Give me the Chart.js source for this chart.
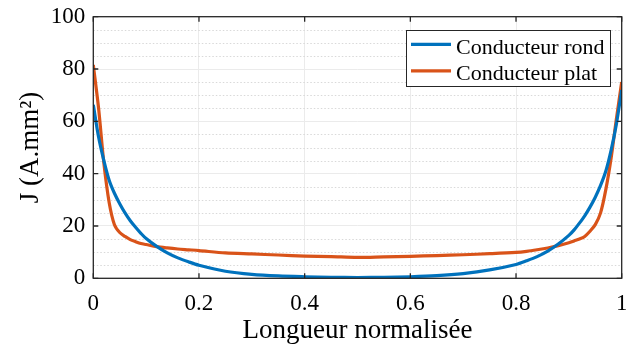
<!DOCTYPE html>
<html>
<head>
<meta charset="utf-8">
<script src="https://cdn.jsdelivr.net/npm/chart.js@4.4.1/dist/chart.umd.min.js"></script>
<style>
  html, body { margin: 0; padding: 0; background: #fff; }
  #wrap { width: 626px; height: 349px; }
</style>
</head>
<body>
<div id="wrap"><canvas id="c" width="626" height="349"></canvas></div>
<script>
// positions le long du conducteur (normalisees)
const positions = [0, 0.01, 0.02, 0.03, 0.04, 0.05, 0.06, 0.07, 0.08, 0.09, 0.1, 0.12, 0.14, 0.16, 0.18, 0.2,
  0.25, 0.3, 0.35, 0.4, 0.45, 0.5, 0.55, 0.6, 0.65, 0.7, 0.75, 0.8, 0.82, 0.84, 0.86, 0.88, 0.9,
  0.91, 0.92, 0.93, 0.94, 0.95, 0.96, 0.97, 0.98, 0.99, 1.0];

// J (A.mm2) - conducteur rond
const rondValues = [66.3, 54, 45, 37.5, 32.5, 28.5, 25, 22, 19.5, 17.2, 15.2, 12.2, 9.7, 7.8, 6.3, 5.0,
  2.7, 1.5, 0.9, 0.6, 0.4, 0.3, 0.4, 0.6, 1.0, 1.8, 3.2, 5.3, 6.7, 8.3, 10.4, 13.1, 16.4,
  18.5, 21.1, 23.9, 27.2, 31, 35.5, 41, 49, 59, 72];

// J (A.mm2) - conducteur plat
const platValues = [81.6, 65, 44, 29, 20.5, 17.5, 16, 14.8, 14, 13.3, 12.9, 12.1, 11.6, 11.2, 10.9, 10.6,
  9.7, 9.3, 8.9, 8.5, 8.3, 8.0, 8.2, 8.4, 8.7, 9.0, 9.4, 9.9, 10.3, 10.9, 11.6, 12.5, 13.6,
  14.3, 15.0, 16.0, 18.0, 20.5, 25, 34, 46, 61, 75];

const seriesNames = ['Conducteur rond', 'Conducteur plat'];
const xTicks = [0, 0.2, 0.4, 0.6, 0.8, 1];
const yTicks = [0, 20, 40, 60, 80, 100];

const FONT = "'Liberation Serif', 'Times New Roman', serif";
const INK = '#262626';

const toPoints = vals => vals.map((v, i) => ({ x: positions[i], y: v }));

const matlabBox = {
  id: 'matlabBox',
  beforeDatasetsDraw(chart) {
    const { ctx, chartArea: a, scales } = chart;
    ctx.save();
    ctx.strokeStyle = '#d9d9d9';
    ctx.lineWidth = 1;
    ctx.setLineDash([1.5, 2]);
    for (let v = 5; v < 100; v += 5) {
      if (v % 20 === 0) continue;
      const y = Math.round(scales.y.getPixelForValue(v)) + 0.5;
      ctx.beginPath();
      ctx.moveTo(a.left, y);
      ctx.lineTo(a.right, y);
      ctx.stroke();
    }
    ctx.restore();
  },
  afterDatasetsDraw(chart) {
    const { ctx, chartArea: a, scales } = chart;
    const tl = 5;
    ctx.save();
    ctx.strokeStyle = INK;
    ctx.lineWidth = 1.3;
    ctx.strokeRect(a.left, a.top, a.right - a.left, a.bottom - a.top);
    ctx.beginPath();
    xTicks.forEach(t => {
      const x = scales.x.getPixelForValue(t);
      ctx.moveTo(x, a.bottom); ctx.lineTo(x, a.bottom - tl);
      ctx.moveTo(x, a.top); ctx.lineTo(x, a.top + tl);
    });
    yTicks.forEach(t => {
      const y = scales.y.getPixelForValue(t);
      ctx.moveTo(a.left, y); ctx.lineTo(a.left + tl, y);
      ctx.moveTo(a.right, y); ctx.lineTo(a.right - tl, y);
    });
    ctx.stroke();
    ctx.restore();
  },
  afterDraw(chart) {
    // legende dans le coin haut droit
    const { ctx } = chart;
    const bx = 406, by = 30, bw = 204, bh = 56;
    ctx.save();
    ctx.fillStyle = '#fff';
    ctx.fillRect(bx, by, bw, bh);
    ctx.strokeStyle = INK;
    ctx.lineWidth = 1;
    ctx.strokeRect(bx + 0.5, by + 0.5, bw, bh);
    ctx.font = '22px ' + FONT;
    ctx.textBaseline = 'alphabetic';
    chart.data.datasets.forEach((ds, i) => {
      const cy = 44.3 + i * 26.5;
      ctx.strokeStyle = ds.borderColor;
      ctx.lineWidth = 3.2;
      ctx.beginPath();
      ctx.moveTo(411, cy);
      ctx.lineTo(451, cy);
      ctx.stroke();
      ctx.fillStyle = '#000';
      ctx.fillText(ds.label, 456, cy + 9.5);
    });
    ctx.restore();
  }
};

new Chart(document.getElementById('c'), {
  type: 'line',
  data: {
    datasets: [
      { label: seriesNames[0], data: toPoints(rondValues), borderColor: '#0072BD', borderWidth: 3.2,
        pointRadius: 0, tension: 0.3, fill: false },
      { label: seriesNames[1], data: toPoints(platValues), borderColor: '#D95319', borderWidth: 3.2,
        pointRadius: 0, tension: 0.3, fill: false }
    ]
  },
  options: {
    responsive: false,
    animation: false,
    layout: { padding: { top: 16.7, right: 4.3, left: 0, bottom: 0 } },
    plugins: { legend: { display: false }, tooltip: { enabled: false } },
    scales: {
      x: {
        type: 'linear', min: 0, max: 1,
        afterBuildTicks: s => { s.ticks = xTicks.map(v => ({ value: v })); },
        afterFit: s => { s.height = 70.7; s.paddingLeft = 0; s.paddingRight = 0; },
        border: { display: false },
        grid: { color: '#ebebeb', lineWidth: 1, drawTicks: false },
        ticks: { color: '#000', font: { family: FONT, size: 23 }, padding: 12, maxRotation: 0,
          callback: v => String(v) },
        title: { display: true, text: 'Longueur normalisée', color: '#000',
          font: { family: FONT, size: 27 }, padding: { top: 0, bottom: 1.5 } }
      },
      y: {
        min: 0, max: 100,
        afterBuildTicks: s => { s.ticks = yTicks.map(v => ({ value: v })); },
        afterFit: s => { s.width = 93.3; s.paddingTop = 0; s.paddingBottom = 0; },
        border: { display: false },
        grid: { color: '#ebebeb', lineWidth: 1, drawTicks: false },
        ticks: { color: '#000', font: { family: FONT, size: 23 }, padding: 8,
          callback: v => String(v) },
        title: { display: true, text: 'J (A.mm²)', color: '#000',
          font: { family: FONT, size: 27 }, padding: { top: 14.5, bottom: 0 } }
      }
    }
  },
  plugins: [matlabBox]
});
</script>
</body>
</html>
